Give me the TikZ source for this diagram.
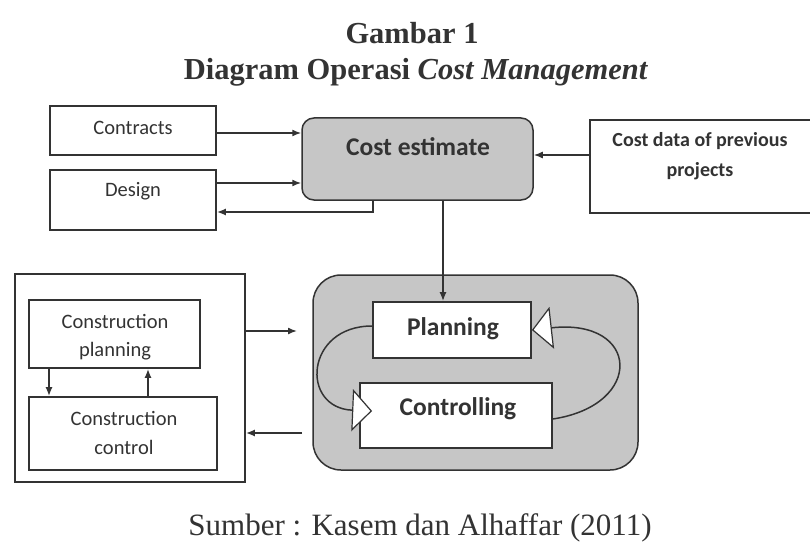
\documentclass[tikz,border=0pt]{standalone}
\usepackage{fontspec}
\setmainfont{Liberation Serif}
\newfontfamily\boxfont{Carlito}
\usetikzlibrary{arrows.meta}
\definecolor{ink}{HTML}{333333}
\definecolor{greyfill}{HTML}{C6C6C6}
\tikzset{
  box/.style={draw=ink, line width=1.8pt, fill=white, inner sep=0pt},
  greybox/.style={draw=ink, line width=1.5pt, fill=greyfill, rounded corners=12pt, inner sep=0pt},
  small/.style={font=\boxfont\fontsize{20.5}{28.5}\selectfont, text=ink, align=center, inner sep=0pt},
  smallbold/.style={font=\boxfont\bfseries\fontsize{20}{30}\selectfont, text=ink, align=center, inner sep=0pt},
  big/.style={font=\boxfont\bfseries\fontsize{25.5}{30}\selectfont, text=ink, inner sep=0pt},
  arr/.style={draw=ink, line width=1.5pt, -{Latex[length=9pt,width=7pt]}},
  loop/.style={draw=ink, line width=1.5pt, -{Triangle[length=20pt,width=42pt,fill=white,line width=1.2pt]}},
  titlefont/.style={font=\bfseries\fontsize{30.5}{34}\selectfont, text=ink, inner sep=0pt},
}
\begin{document}
\begin{tikzpicture}[x=1pt,y=-1pt]
\path[use as bounding box, clip] (0,0) rectangle (810,548);
\fill[white] (0,0) rectangle (810,548);

% titles
\node[titlefont] (t1) at (412,33) {Gambar 1};
\node[titlefont] (t2) at (416,72) {Diagram Operasi \textit{Cost Management}};
\node[font=\fontsize{31}{34}\selectfont, text=ink, inner sep=0pt] (src) at (420,528) {Sumber : Kasem dan Alhaffar (2011)};

% top boxes
\node[box, minimum width=166pt, minimum height=49pt] (contracts) at (133,130.5) {};
\node[small] (contractsT) at (133,128) {Contracts};
\node[box, minimum width=166pt, minimum height=60pt] (design) at (133,200) {};
\node[small] (designT) at (133,191) {Design};
\node[greybox, minimum width=231pt, minimum height=82pt] (costest) at (417.5,159) {};
\node[big] (costestT) at (418,147) {Cost estimate};
\node[box, minimum width=225pt, minimum height=93pt] (costdata) at (702.5,166.5) {};
\node[smallbold] (costdataT) at (700,156) {Cost data of previous\\projects};

% grey group
\node[greybox, rounded corners=28pt, minimum width=325pt, minimum height=195pt] (group) at (475.5,372.5) {};
\node[box, minimum width=158pt, minimum height=56pt] (planning) at (452,330) {};
\node[big] (planningT) at (453,329) {Planning};
\node[box, minimum width=192pt, minimum height=65pt] (controlling) at (456,415.5) {};
\node[big] (controllingT) at (458,409) {Controlling};

% left group
\node[box, fill=none, minimum width=230pt, minimum height=208pt] (outer) at (130,378) {};
\node[box, minimum width=171pt, minimum height=68pt] (cp) at (114.5,334) {};
\node[small] (cpT) at (115,337) {Construction\\planning};
\node[box, minimum width=188pt, minimum height=73pt] (cc) at (123,433.5) {};
\node[small] (ccT) at (124,433) {Construction\\control};

% helper coordinates
\coordinate (k1) at (373,212);
\coordinate (k2) at (600,155);
\coordinate (k3) at (443,0);
\coordinate (g1) at (297,331);
\coordinate (g2) at (302,433);
\coordinate (k5) at (49,0);
\coordinate (k6) at (148,0);

% connectors
\draw[arr] (contracts.east |- 0,133) -- (costest.west |- 0,133);
\draw[arr] ([yshift=17pt]design.east) -- (costest.west |- 0,183);
\draw[arr] (costest.south -| k1) -- (k1) -- (design.east |- k1);
\draw[arr] (costdata.west |- k2) -- (costest.east |- k2);
\draw[arr] (costest.south -| k3) -- (planning.north -| k3);
\draw[arr] (outer.east |- g1) -- (g1);
\draw[arr] (g2) -- (outer.east |- g2);
\draw[arr] (cp.south -| k5) -- (cc.north -| k5);
\draw[arr] (cc.north -| k6) -- (cp.south -| k6);

% loop
\draw[loop] (planning.west |- 0,326) .. controls (305,326) and (300,408) .. ([xshift=13pt]controlling.west |- 0,411);
\draw[loop] (controlling.east |- 0,419) .. controls (645,405) and (640,318) .. (planning.east);
\end{tikzpicture}
\end{document}
